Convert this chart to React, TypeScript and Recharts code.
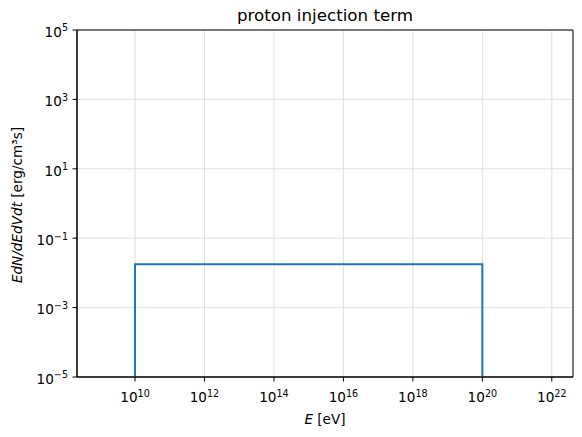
import { LineChart, Line, XAxis, YAxis, CartesianGrid, ReferenceArea, Customized } from "recharts";

// step-shaped injection spectrum (cut at both ends)
const energy = [1e10, 1e10, 1e20, 1e20];
const injection = [1e-12, 0.0178, 0.0178, 1e-12];

const xTicks = [1e10, 1e12, 1e14, 1e16, 1e18, 1e20, 1e22];
const yTicks = [1e-5, 1e-3, 1e-1, 1e1, 1e3, 1e5];

const xDomain = [Math.pow(10, 8.33), Math.pow(10, 22.61)];
const yDomain = [1e-5, 1e5];

const data = energy.map((E, i) => ({ E, q: injection[i] }));

const FONT = "DejaVu Sans, sans-serif";

function expLabel(v: number) {
  const e = Math.round(Math.log10(v));
  return e < 0 ? "\u2212" + Math.abs(e) : String(e);
}

const XTick = (props: any) => {
  const { x, y, payload } = props;
  return (
    <text x={x} y={y + 18.6} textAnchor="middle" fontFamily={FONT} fontSize={13.6} fill="#000">
      10<tspan dy={-5.5} fontSize={9.6}>{expLabel(payload.value)}</tspan>
    </text>
  );
};

const YTick = (props: any) => {
  const { x, y, payload } = props;
  return (
    <text x={x - 2.5} y={y + 6.8} textAnchor="end" fontFamily={FONT} fontSize={13.6} fill="#000">
      10<tspan dy={-5.5} fontSize={9.6}>{expLabel(payload.value)}</tspan>
    </text>
  );
};

const Labels = () => (
  <g fontFamily={FONT} fill="#000">
    <text x={325} y={21} textAnchor="middle" fontSize={16.7}>proton injection term</text>
    <text x={325} y={424} textAnchor="middle" fontSize={13.6}>
      <tspan fontStyle="italic">E</tspan> [eV]
    </text>
    <text x={22} y={205} textAnchor="middle" fontSize={13.6} transform="rotate(-90 22 205)">
      <tspan fontStyle="italic">EdN/dEdVdt</tspan> [erg/cm³s]
    </text>
  </g>
);

export default function App() {
  return (
    <div style={{ position: "absolute", left: 0, top: 0, background: "#fff" }}>
      <LineChart width={582} height={437} data={data} margin={{ top: 30, right: 9, bottom: 0, left: 0 }}>
        <CartesianGrid stroke="#e0e0e0" strokeWidth={1} />
        <XAxis
          dataKey="E"
          type="number"
          scale="log"
          domain={xDomain}
          allowDataOverflow
          ticks={xTicks}
          tick={<XTick />}
          tickSize={4.5}
          tickLine={{ stroke: "#000" }}
          axisLine={{ stroke: "#000" }}
          height={60}
          interval={0}
        />
        <YAxis
          type="number"
          scale="log"
          domain={yDomain}
          allowDataOverflow
          ticks={yTicks}
          tick={<YTick />}
          tickSize={4.5}
          tickLine={{ stroke: "#000" }}
          axisLine={{ stroke: "#000" }}
          width={77}
          interval={0}
        />
        <ReferenceArea
          x1={xDomain[0]}
          x2={xDomain[1]}
          y1={yDomain[0]}
          y2={yDomain[1]}
          fill="none"
          stroke="#000"
          strokeWidth={1}
          ifOverflow="extendDomain"
        />
        <Line
          dataKey="q"
          stroke="#1f77b4"
          strokeWidth={2}
          dot={false}
          type="linear"
          isAnimationActive={false}
        />
        <Customized component={<Labels />} />
      </LineChart>
    </div>
  );
}
